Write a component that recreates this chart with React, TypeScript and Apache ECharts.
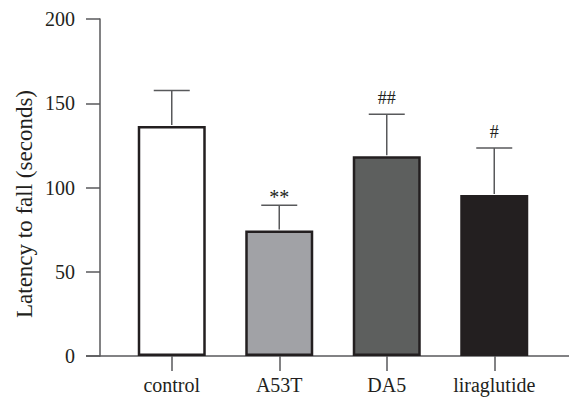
import React, { useEffect, useRef } from "react";
import * as echarts from "echarts";

const categories = ["control", "A53T", "DA5", "liraglutide"];
const means = [136.5, 74.5, 118.5, 95.5];
const errors = [21, 15, 25, 28];
const marks = ["", "**", "##", "#"];
const fills = ["#ffffff", "#a1a2a6", "#5d5f5e", "#231f20"];
const yTicks = [0, 50, 100, 150, 200];

const FONT = "'Liberation Serif', 'Times New Roman', serif";
const AXIS = "#58595b";

export default function App() {
  const ref = useRef<HTMLDivElement>(null);
  useEffect(() => {
    if (!ref.current) return;
    const chart = echarts.init(ref.current, undefined, { renderer: "svg" });
    chart.setOption({
      animation: false,
      backgroundColor: "#ffffff",
      grid: { left: 118, right: 21, top: 19, bottom: 44, containLabel: false },
      xAxis: {
        type: "category",
        data: categories,
        boundaryGap: true,
        axisLine: { show: false },
        axisTick: { show: true, alignWithLabel: true, length: 15, lineStyle: { color: AXIS, width: 1.5 } },
        axisLabel: { color: "#231f20", fontFamily: FONT, fontSize: 20, margin: 19 },
        splitLine: { show: false },
      },
      yAxis: {
        type: "value",
        min: yTicks[0],
        max: yTicks[yTicks.length - 1],
        interval: 50,
        offset: 18,
        axisLine: { show: true, lineStyle: { color: AXIS, width: 1.5 } },
        axisTick: { show: true, length: 14, lineStyle: { color: AXIS, width: 1.5 } },
        axisLabel: { color: "#231f20", fontFamily: FONT, fontSize: 20, margin: 25 },
        splitLine: { show: false },
      },
      graphic: [
        {
          type: "line",
          shape: { x1: 86, y1: 356, x2: 569, y2: 356 },
          style: { stroke: AXIS, lineWidth: 1.5 },
          z: 1,
        },
        {
          type: "text",
          x: 24,
          y: 204,
          rotation: Math.PI / 2,
          style: {
            text: "Latency to fall (seconds)",
            fontFamily: FONT,
            fontSize: 23,
            fill: "#231f20",
            align: "center",
            verticalAlign: "middle",
          },
        },
      ],
      series: [
        {
          type: "bar",
          barWidth: 68,
          z: 3,
          data: means.map((v, i) => ({
            value: v,
            itemStyle: { color: fills[i], borderColor: "#231f20", borderWidth: 2.5 },
          })),
        },
        {
          type: "custom",
          z: 4,
          data: means.map((v, i) => [i, v, errors[i]]),
          renderItem: (params: any, api: any) => {
            const idx = api.value(0);
            const m = api.value(1);
            const e = api.value(2);
            const base = api.coord([idx, m]);
            const top = api.coord([idx, m + e]);
            const half = 18;
            const label = marks[params.dataIndex];
            const isStar = label.indexOf("*") >= 0;
            const children: any[] = [
              {
                type: "line",
                shape: { x1: base[0], y1: base[1] - 1, x2: top[0], y2: top[1] },
                style: { stroke: AXIS, lineWidth: 1.5 },
              },
              {
                type: "line",
                shape: { x1: top[0] - half, y1: top[1], x2: top[0] + half, y2: top[1] },
                style: { stroke: AXIS, lineWidth: 1.5 },
              },
            ];
            if (label) {
              children.push({
                type: "text",
                x: top[0],
                y: top[1] - (isStar ? 8 : 16),
                style: {
                  text: label,
                  fontFamily: FONT,
                  fontSize: isStar ? 20 : 18,
                  fill: "#231f20",
                  align: "center",
                  verticalAlign: "middle",
                },
              });
            }
            return { type: "group", children };
          },
        },
      ],
    });
    return () => chart.dispose();
  }, []);
  return <div ref={ref} style={{ width: 569, height: 400, position: "absolute", left: 0, top: 0 }} />;
}
